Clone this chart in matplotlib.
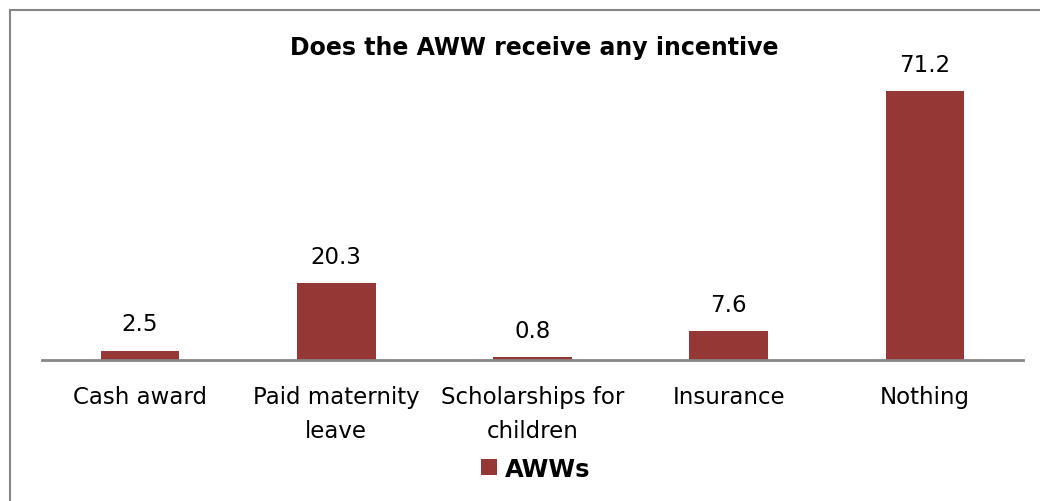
import matplotlib.pyplot as plt
from matplotlib.patches import Rectangle

# incentive categories and share of AWWs (%)
categories = ['Cash award', 'Paid maternity\nleave', 'Scholarships for\nchildren',
              'Insurance', 'Nothing']
awws = [2.5, 20.3, 0.8, 7.6, 71.2]

bar_color = '#953735'

fig = plt.figure(figsize=(10.4, 5.02), dpi=100)
ax = fig.add_axes([42 / 1040, 141 / 502, 981 / 1040, 302 / 502])

x = range(len(categories))
bars = ax.bar(x, awws, width=0.4, color=bar_color, label='AWWs', zorder=2)

# value labels above bars
for b, v in zip(bars, awws):
    ax.text(b.get_x() + b.get_width() / 2, v + 4.0, f'{v}', ha='center',
            va='bottom', fontsize=16.5)

ax.set_xlim(-0.5, len(categories) - 0.5)
ax.set_ylim(0, 80)
ax.set_xticks(list(x))
ax.set_xticklabels(categories, fontsize=16.5, linespacing=1.6)
ax.tick_params(axis='x', length=0, pad=18)
ax.set_yticks([])
for side in ['top', 'right', 'left']:
    ax.spines[side].set_visible(False)
ax.spines['bottom'].set_color('#868686')
ax.spines['bottom'].set_linewidth(2)

fig.text(0.514, 0.905, 'Does the AWW receive any incentive', ha='center',
         va='center', fontsize=17, fontweight='bold')

# legend under the chart
fig.legend(handles=[bars], labels=['AWWs'], loc='center', bbox_to_anchor=(0.515, 0.064),
           frameon=False, handlelength=0.65, handleheight=0.65, handletextpad=0.3,
           prop={'weight': 'bold', 'size': 17.5})

# outer chart border
fig.patches.append(Rectangle((10 / 1040, -0.1), 1.2, 1.078,
                             transform=fig.transFigure, fill=False,
                             edgecolor='#868686', linewidth=1.5))

fig.savefig('out.png', dpi=100)
